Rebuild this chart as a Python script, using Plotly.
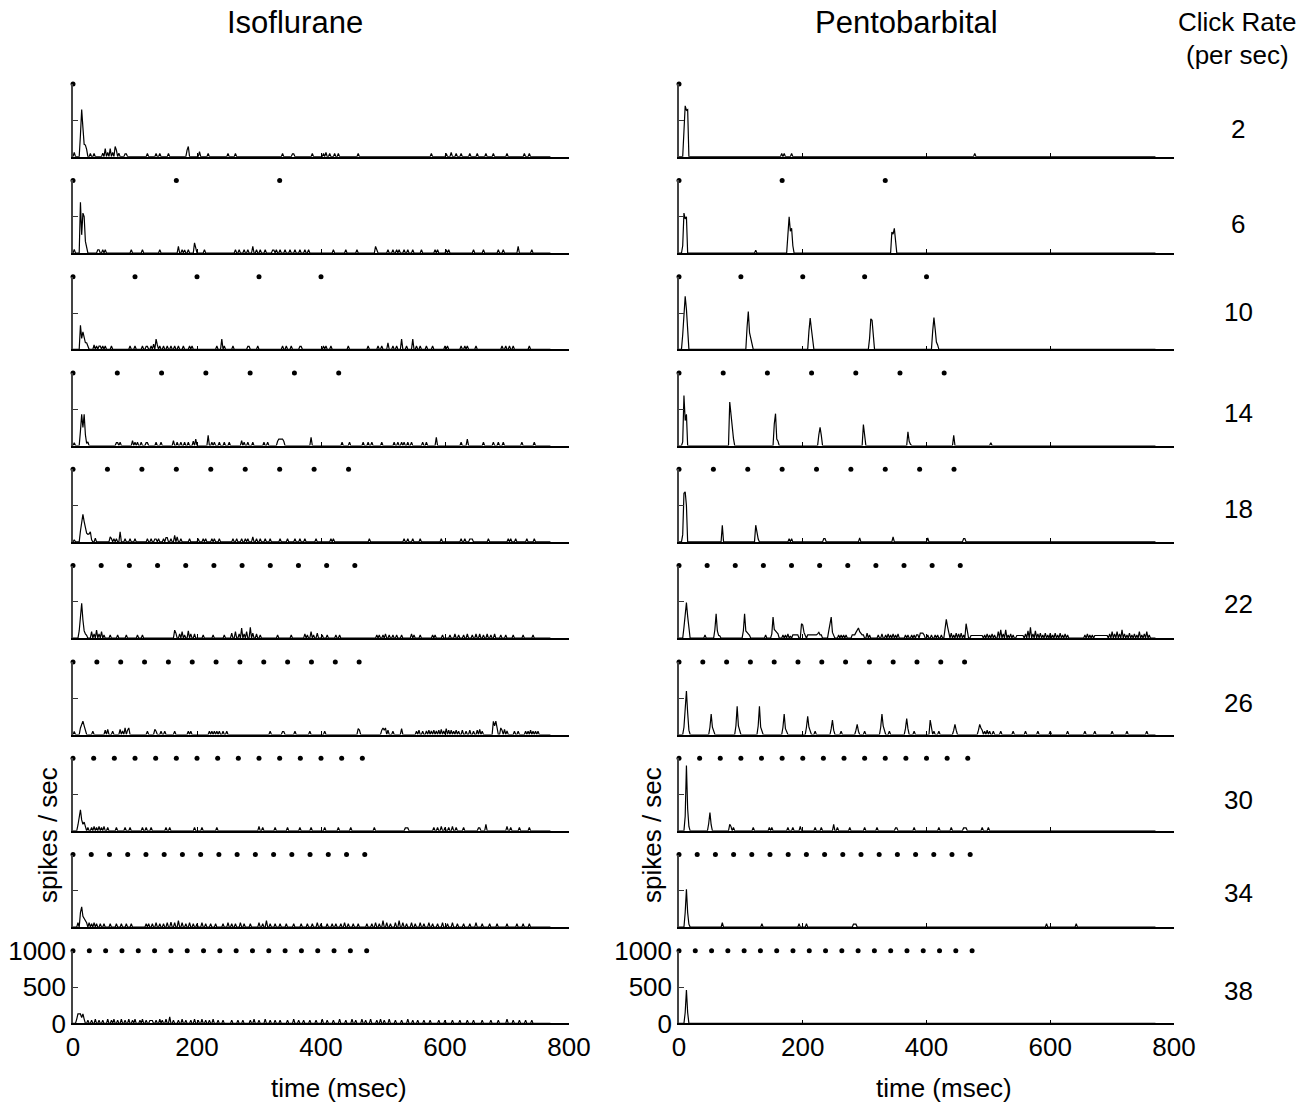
import plotly.graph_objects as go

# ---------------------------------------------------------------------------
# Post-stimulus time histograms (2 ms bins) for click trains at ten rates,
# recorded under two anaesthetics. Each panel is a list of (bin start ms,
# spikes/sec) for the non-empty bins; all other bins are zero.
# ---------------------------------------------------------------------------
BIN_MS = 2
T_END = 770
STIM_MS = 500          # click train duration
click_rates = [2, 6, 10, 14, 18, 22, 26, 30, 34, 38]
x_ticks = [0, 200, 400, 600, 800]
y_ticks = [0, 500, 1000]

iso_02 = [(2, 60), (12, 300), (14, 650), (16, 400), (18, 170), (20, 160), (22, 100),
          (28, 45), (34, 45), (48, 50), (52, 110), (56, 60), (60, 110), (64, 60), (68, 140),
          (70, 90), (74, 50), (84, 40), (86, 40), (120, 45), (134, 45), (140, 45), (154, 45),
          (184, 90), (186, 140), (204, 70), (218, 45), (250, 45), (262, 45), (338, 45),
          (354, 40), (356, 40), (386, 45), (404, 45), (408, 60), (414, 45), (422, 45),
          (428, 45), (460, 45), (578, 45), (602, 45), (610, 60), (618, 45), (626, 45),
          (640, 45), (652, 45), (666, 45), (678, 45), (700, 45), (728, 45), (736, 45)]
iso_06 = [(2, 50), (12, 700), (14, 250), (16, 550), (18, 500), (20, 160), (22, 60),
          (40, 45), (42, 45), (48, 45), (52, 45), (94, 45), (112, 45), (140, 45), (170, 90),
          (176, 45), (180, 40), (186, 45), (196, 140), (198, 70), (212, 45), (262, 45),
          (268, 45), (276, 45), (282, 45), (290, 90), (296, 45), (302, 45), (310, 45),
          (322, 40), (324, 40), (328, 45), (334, 45), (342, 45), (350, 45), (358, 45),
          (366, 45), (374, 45), (380, 45), (420, 45), (440, 45), (458, 45), (488, 90),
          (490, 45), (508, 45), (516, 45), (522, 45), (526, 45), (534, 45), (540, 45),
          (548, 45), (562, 45), (584, 45), (588, 45), (602, 45), (606, 45), (646, 45),
          (662, 45), (686, 45), (694, 45), (718, 90), (740, 45)]
iso_10 = [(10, 0), (12, 330), (14, 150), (16, 240), (18, 150), (20, 90), (22, 90), (24, 30),
          (34, 60), (38, 45), (42, 45), (44, 45), (48, 45), (52, 45), (62, 45), (92, 45),
          (100, 45), (112, 45), (118, 40), (120, 40), (126, 45), (130, 70), (134, 140),
          (136, 60), (140, 45), (146, 45), (152, 45), (158, 45), (164, 45), (170, 45),
          (178, 45), (188, 45), (192, 45), (232, 45), (240, 140), (244, 45), (258, 45),
          (282, 40), (284, 40), (298, 45), (338, 45), (344, 45), (352, 45), (366, 40),
          (368, 40), (404, 45), (408, 45), (416, 45), (444, 45), (476, 45), (492, 45),
          (498, 45), (508, 90), (516, 45), (522, 45), (530, 140), (538, 45), (548, 140),
          (554, 45), (560, 45), (570, 45), (580, 45), (600, 45), (604, 45), (626, 45),
          (632, 45), (636, 45), (650, 45), (692, 45), (698, 45), (704, 45), (710, 45),
          (736, 45)]
iso_14 = [(2, 40), (12, 200), (14, 430), (16, 250), (18, 430), (20, 150), (22, 30), (24, 50),
          (70, 40), (72, 40), (76, 45), (96, 70), (100, 45), (104, 45), (110, 45), (118, 40),
          (120, 40), (134, 45), (142, 45), (162, 70), (168, 45), (174, 45), (180, 45),
          (186, 45), (194, 60), (198, 90), (218, 140), (224, 45), (228, 45), (236, 45),
          (244, 45), (252, 45), (272, 70), (276, 45), (282, 45), (290, 45), (308, 45),
          (314, 45), (330, 60), (332, 90), (334, 90), (336, 90), (338, 90), (340, 60),
          (384, 115), (434, 45), (446, 45), (468, 45), (476, 45), (482, 45), (498, 45),
          (518, 45), (524, 45), (530, 45), (534, 45), (540, 45), (546, 45), (564, 45),
          (570, 45), (586, 115), (626, 45), (636, 90), (662, 45), (678, 45), (686, 45),
          (694, 45), (724, 45), (744, 45)]
iso_18 = [(2, 30), (12, 150), (14, 270), (16, 380), (18, 280), (20, 175), (22, 120),
          (24, 105), (26, 110), (28, 140), (30, 30), (36, 50), (60, 70), (62, 45), (66, 45),
          (70, 45), (76, 140), (84, 45), (92, 45), (100, 45), (120, 45), (126, 45),
          (132, 40), (134, 40), (138, 45), (146, 45), (150, 60), (152, 60), (158, 45),
          (164, 90), (168, 70), (174, 45), (188, 45), (202, 45), (210, 45), (214, 45),
          (224, 45), (228, 45), (236, 45), (258, 45), (264, 45), (272, 45), (278, 45),
          (282, 45), (290, 70), (296, 45), (302, 45), (310, 45), (318, 45), (334, 45),
          (346, 45), (358, 45), (366, 45), (374, 45), (392, 45), (416, 45), (420, 45),
          (478, 45), (534, 45), (540, 45), (548, 45), (560, 45), (594, 45), (626, 45),
          (632, 45), (640, 40), (642, 40), (644, 40), (670, 45), (702, 45), (706, 45),
          (714, 45), (732, 45), (744, 45)]
iso_22 = [(10, 100), (12, 300), (14, 480), (16, 250), (18, 100), (20, 60), (22, 40),
          (30, 90), (34, 60), (38, 110), (42, 60), (46, 90), (50, 45), (60, 45), (72, 45),
          (86, 45), (104, 45), (112, 45), (164, 110), (166, 70), (172, 60), (176, 90),
          (180, 45), (186, 100), (190, 60), (196, 60), (210, 45), (226, 45), (244, 45),
          (256, 70), (262, 90), (268, 60), (272, 140), (276, 60), (280, 90), (286, 150),
          (290, 70), (296, 60), (302, 45), (330, 45), (352, 45), (374, 60), (378, 45),
          (384, 90), (388, 45), (394, 70), (402, 45), (410, 45), (424, 45), (430, 45),
          (490, 45), (494, 45), (500, 45), (504, 60), (510, 45), (516, 45), (522, 45),
          (530, 45), (546, 60), (550, 45), (560, 45), (580, 45), (584, 45), (596, 45),
          (608, 45), (616, 60), (622, 45), (630, 45), (636, 60), (644, 45), (650, 60),
          (656, 60), (662, 45), (668, 60), (674, 45), (680, 60), (690, 45), (698, 45),
          (710, 45), (726, 45), (742, 45)]
iso_26 = [(2, 40), (12, 90), (14, 150), (16, 184), (18, 120), (20, 40), (32, 45), (52, 60),
          (56, 70), (64, 45), (76, 70), (80, 50), (84, 90), (88, 60), (90, 90), (120, 45),
          (132, 70), (134, 45), (142, 45), (148, 45), (164, 45), (186, 45), (190, 45),
          (220, 45), (224, 45), (228, 45), (232, 45), (236, 45), (242, 45), (248, 45),
          (318, 45), (338, 40), (340, 40), (358, 45), (382, 45), (406, 45), (460, 80),
          (462, 60), (498, 60), (500, 90), (502, 60), (504, 90), (508, 60), (516, 45),
          (530, 80), (554, 45), (558, 60), (564, 45), (570, 50), (574, 60), (578, 50),
          (582, 60), (586, 50), (590, 60), (594, 70), (598, 50), (602, 80), (606, 60),
          (610, 60), (614, 45), (618, 60), (622, 45), (628, 60), (634, 45), (640, 60),
          (646, 45), (652, 60), (656, 70), (660, 45), (678, 180), (680, 120), (682, 184),
          (684, 90), (690, 90), (692, 60), (696, 70), (700, 50), (712, 45), (718, 45),
          (730, 45), (734, 45), (738, 60), (742, 45), (746, 45), (750, 45)]
iso_30 = [(8, 80), (10, 200), (12, 290), (14, 150), (16, 90), (18, 120), (20, 60), (24, 45),
          (30, 45), (34, 60), (38, 45), (42, 60), (46, 45), (50, 60), (56, 45), (70, 45),
          (84, 45), (92, 45), (112, 45), (118, 45), (126, 45), (150, 45), (156, 45),
          (196, 45), (208, 45), (232, 45), (300, 60), (306, 45), (326, 45), (346, 45),
          (366, 45), (384, 45), (406, 45), (428, 45), (448, 45), (486, 45), (536, 40),
          (538, 40), (540, 40), (582, 45), (588, 45), (594, 60), (600, 45), (606, 45),
          (612, 60), (618, 45), (630, 45), (654, 40), (656, 40), (666, 90), (700, 60),
          (706, 45), (720, 45), (736, 45)]
iso_34 = [(8, 60), (12, 200), (14, 280), (16, 150), (18, 120), (20, 90), (22, 60), (26, 60),
          (30, 45), (34, 60), (38, 45), (44, 45), (50, 45), (60, 45), (70, 45), (78, 45),
          (86, 45), (94, 45), (118, 45), (122, 45), (128, 45), (134, 60), (140, 45),
          (146, 45), (152, 60), (158, 70), (164, 60), (170, 90), (176, 60), (182, 45),
          (188, 60), (194, 45), (200, 45), (208, 60), (214, 45), (222, 45), (230, 45),
          (242, 45), (250, 60), (256, 45), (262, 45), (270, 60), (276, 45), (286, 45),
          (300, 60), (306, 45), (312, 90), (318, 45), (326, 45), (334, 45), (344, 45),
          (356, 45), (368, 45), (378, 45), (386, 45), (394, 60), (400, 45), (410, 45),
          (418, 45), (424, 45), (432, 45), (438, 60), (444, 45), (452, 45), (460, 45),
          (474, 45), (482, 45), (488, 60), (494, 45), (500, 90), (506, 60), (512, 45),
          (520, 60), (526, 90), (532, 60), (538, 45), (546, 60), (552, 45), (560, 60),
          (566, 45), (574, 60), (580, 45), (588, 45), (596, 60), (604, 45), (612, 60),
          (620, 45), (630, 45), (640, 45), (650, 60), (660, 45), (672, 45), (684, 45),
          (700, 45), (716, 45), (726, 45), (736, 45)]
iso_38 = [(6, 60), (8, 130), (10, 130), (12, 130), (14, 80), (16, 130), (18, 60), (24, 45),
          (30, 45), (36, 60), (42, 45), (48, 45), (56, 60), (62, 45), (66, 60), (72, 45),
          (78, 60), (84, 45), (90, 60), (96, 45), (100, 60), (108, 45), (112, 60), (118, 45),
          (124, 40), (126, 40), (128, 40), (134, 45), (140, 60), (144, 45), (150, 60),
          (156, 90), (162, 45), (170, 45), (176, 60), (182, 45), (190, 45), (196, 60),
          (202, 45), (208, 60), (214, 45), (220, 45), (226, 60), (234, 45), (242, 45),
          (256, 45), (266, 45), (274, 45), (286, 45), (292, 60), (300, 45), (310, 60),
          (318, 45), (326, 45), (334, 45), (346, 45), (356, 60), (364, 45), (372, 45),
          (382, 45), (392, 45), (402, 60), (410, 45), (420, 45), (430, 60), (440, 45),
          (450, 60), (456, 45), (466, 60), (472, 45), (480, 60), (490, 45), (496, 60),
          (502, 45), (510, 60), (520, 45), (530, 45), (540, 60), (548, 45), (556, 45),
          (566, 45), (576, 45), (590, 45), (600, 45), (612, 45), (624, 45), (636, 45),
          (646, 45), (660, 45), (674, 45), (686, 45), (700, 60), (710, 45), (720, 45),
          (730, 45), (740, 45)]

pen_02 = [(8, 350), (10, 700), (12, 640), (14, 650), (166, 45), (170, 45), (182, 45),
          (478, 45)]
pen_06 = [(6, 100), (8, 550), (10, 470), (12, 500), (124, 37), (176, 250), (178, 500),
          (180, 300), (182, 340), (184, 100), (344, 290), (346, 260), (348, 340), (350, 120)]
pen_10 = [(6, 200), (8, 500), (10, 730), (12, 550), (14, 230), (110, 300), (112, 520),
          (114, 230), (116, 150), (118, 60), (210, 250), (212, 430), (214, 280), (216, 100),
          (308, 150), (310, 420), (312, 400), (314, 150), (410, 250), (412, 436),
          (414, 280), (416, 100), (418, 60)]
pen_14 = [(6, 50), (8, 690), (10, 345), (12, 430), (82, 600), (84, 400), (86, 230),
          (88, 100), (154, 300), (156, 440), (158, 90), (160, 60), (226, 150), (228, 250),
          (230, 140), (298, 290), (300, 120), (370, 190), (372, 60), (374, 20), (444, 140),
          (504, 40)]
pen_18 = [(6, 100), (8, 670), (10, 690), (12, 500), (70, 230), (124, 230), (126, 100),
          (128, 40), (178, 45), (182, 45), (234, 46), (236, 46), (292, 55), (346, 70),
          (402, 55), (460, 46), (462, 46)]
pen_22 = [(8, 150), (10, 350), (12, 490), (14, 300), (16, 100), (42, 46), (58, 120),
          (60, 335), (62, 100), (64, 40), (66, 30), (104, 100), (106, 335), (108, 100),
          (110, 70), (112, 60), (114, 40), (140, 45), (150, 60), (152, 290), (154, 120),
          (156, 90), (158, 80), (160, 60), (168, 46), (172, 46), (176, 60), (180, 30),
          (184, 46), (186, 46), (188, 46), (190, 46), (192, 46), (198, 200), (200, 180),
          (202, 80), (204, 30), (208, 46), (210, 46), (212, 46), (214, 46), (216, 46),
          (218, 46), (220, 46), (222, 46), (224, 60), (226, 80), (228, 46), (230, 46),
          (242, 100), (244, 200), (246, 290), (248, 80), (250, 40), (258, 46), (262, 46),
          (266, 46), (270, 46), (280, 46), (282, 46), (284, 46), (286, 80), (288, 110),
          (290, 140), (292, 90), (294, 60), (296, 46), (298, 46), (304, 70), (308, 46),
          (322, 46), (328, 60), (334, 46), (338, 60), (342, 46), (346, 60), (350, 46),
          (354, 60), (366, 46), (370, 46), (376, 46), (380, 46), (384, 46), (386, 46),
          (390, 70), (392, 70), (394, 70), (396, 46), (402, 46), (408, 46), (414, 46),
          (418, 46), (424, 46), (430, 160), (432, 260), (434, 160), (436, 60), (440, 70),
          (444, 46), (448, 70), (452, 60), (456, 70), (460, 46), (464, 200), (466, 60),
          (472, 37), (474, 37), (476, 37), (478, 37), (480, 37), (482, 37), (484, 37),
          (486, 37), (488, 37), (490, 37), (494, 46), (498, 60), (502, 46), (506, 60),
          (510, 46), (516, 90), (520, 115), (524, 60), (528, 115), (532, 46), (536, 60),
          (540, 46), (546, 37), (548, 37), (550, 37), (552, 37), (554, 37), (556, 37),
          (560, 60), (564, 100), (568, 150), (572, 60), (576, 100), (580, 60), (584, 70),
          (588, 46), (592, 70), (596, 46), (600, 70), (604, 46), (608, 70), (612, 46),
          (616, 70), (620, 46), (624, 60), (628, 46), (656, 46), (660, 60), (664, 46),
          (668, 46), (672, 37), (674, 37), (676, 37), (678, 37), (680, 37), (682, 37),
          (684, 37), (686, 37), (688, 37), (690, 37), (692, 37), (696, 60), (700, 90),
          (704, 60), (708, 90), (712, 60), (716, 115), (720, 60), (724, 46), (728, 70),
          (732, 46), (736, 60), (740, 46), (744, 90), (748, 46), (752, 60), (756, 90),
          (760, 46)]
pen_26 = [(8, 100), (10, 400), (12, 600), (14, 300), (16, 60), (50, 100), (52, 280),
          (54, 100), (56, 40), (92, 120), (94, 390), (96, 120), (98, 40), (128, 120),
          (130, 390), (132, 100), (134, 40), (168, 100), (170, 280), (172, 80), (174, 40),
          (206, 100), (208, 250), (210, 100), (212, 40), (220, 45), (246, 80), (248, 200),
          (250, 60), (262, 45), (286, 60), (288, 140), (290, 45), (300, 45), (326, 100),
          (328, 280), (330, 120), (332, 60), (340, 45), (366, 80), (368, 220), (370, 80),
          (380, 45), (406, 200), (408, 80), (412, 45), (420, 45), (444, 60), (446, 140),
          (448, 60), (484, 60), (486, 140), (488, 90), (490, 60), (494, 45), (498, 60),
          (502, 45), (508, 45), (520, 45), (540, 45), (560, 45), (580, 45), (600, 45),
          (628, 45), (656, 45), (672, 45), (700, 45), (724, 45), (756, 45)]
pen_30 = [(10, 200), (12, 900), (14, 300), (16, 60), (48, 100), (50, 250), (52, 80),
          (82, 90), (84, 60), (88, 45), (120, 45), (146, 45), (150, 45), (176, 45),
          (184, 45), (196, 60), (220, 45), (230, 45), (250, 90), (256, 45), (276, 45),
          (300, 45), (320, 45), (350, 40), (352, 40), (380, 45), (420, 45), (440, 45),
          (460, 40), (462, 40), (464, 40), (490, 45), (500, 45)]
pen_34 = [(10, 200), (12, 520), (14, 200), (16, 40), (70, 60), (134, 45), (194, 45),
          (206, 45), (282, 40), (284, 40), (286, 40), (594, 45), (642, 45)]
pen_38 = [(10, 150), (12, 460), (14, 150)]

isoflurane = [iso_02, iso_06, iso_10, iso_14, iso_18, iso_22, iso_26, iso_30, iso_34, iso_38]
pentobarbital = [pen_02, pen_06, pen_10, pen_14, pen_18, pen_22, pen_26, pen_30, pen_34,
                 pen_38]

# ---------------------------------------------------------------------------
# Page geometry (pixels)
# ---------------------------------------------------------------------------
W, H = 1311, 1105
COL_X = [(73, 569), (679, 1174)]       # x extent of the two columns
ROW0_BASE, ROW_STEP, PANEL_H = 156.7, 96.3, 72.6
FONT = "Liberation Sans, Arial, Helvetica, sans-serif"


def px(x):
    return x / W


def py(y):
    return 1 - y / H


def histogram(events):
    t = list(range(0, T_END + BIN_MS, BIN_MS))
    rate = [0.0] * len(t)
    for ms, r in events:
        rate[ms // BIN_MS] = r
    return t, rate


def click_times(rate):
    period = 1000.0 / rate
    return [k * period for k in range(int(rate * STIM_MS / 1000))]


fig = go.Figure()
layout_axes = {}
n_rows = len(click_rates)
for col, panels in enumerate([isoflurane, pentobarbital]):
    for row, (rate_hz, events) in enumerate(zip(click_rates, panels)):
        idx = col * n_rows + row + 1
        xa = "x" if idx == 1 else f"x{idx}"
        ya = "y" if idx == 1 else f"y{idx}"
        t, r = histogram(events)
        fig.add_trace(go.Scatter(x=t, y=r, mode="lines", xaxis=xa, yaxis=ya,
                                 line=dict(color="black", width=1.2),
                                 hoverinfo="skip", showlegend=False))
        clicks = click_times(rate_hz)
        fig.add_trace(go.Scatter(x=clicks, y=[1000] * len(clicks), mode="markers",
                                 xaxis=xa, yaxis=ya, cliponaxis=False,
                                 marker=dict(color="black", size=5),
                                 hoverinfo="skip", showlegend=False))
        base = ROW0_BASE + row * ROW_STEP
        bottom = row == n_rows - 1
        layout_axes["xaxis" if idx == 1 else f"xaxis{idx}"] = dict(
            domain=[px(COL_X[col][0]), px(COL_X[col][1])], anchor=ya,
            range=[0, 800], tickvals=x_ticks, ticks="inside", ticklen=4,
            tickwidth=1.3, tickcolor="black", showline=True, linecolor="black",
            linewidth=1.5, showgrid=False, zeroline=False, automargin=False,
            showticklabels=bottom, tickfont=dict(family=FONT, size=26, color="black"),
            ticklabelstandoff=0)
        layout_axes["yaxis" if idx == 1 else f"yaxis{idx}"] = dict(
            domain=[py(base), py(base - PANEL_H)], anchor=xa,
            range=[0, 1000], tickvals=y_ticks, ticks="inside", ticklen=5,
            tickwidth=1.3, tickcolor="#333", showline=True, linecolor="#444",
            linewidth=1.5, showgrid=False, zeroline=False, automargin=False,
            showticklabels=bottom, tickfont=dict(family=FONT, size=26, color="black"),
            ticklabelstandoff=0)

annotations = []


def label(text, x, y, size=26, angle=0):
    annotations.append(dict(text=text, x=px(x), y=py(y), xref="paper", yref="paper",
                             xanchor="center", yanchor="middle", showarrow=False,
                             textangle=angle,
                             font=dict(family=FONT, size=size, color="black")))


label("Isoflurane", 295, 22, size=31)
label("Pentobarbital", 906, 22, size=31)
label("Click Rate", 1237, 22)
label("(per sec)", 1237, 55)
rate_label_y = [129, 224, 312, 413, 509, 604, 703, 800, 893, 991]
for rate_hz, yy in zip(click_rates, rate_label_y):
    label(str(rate_hz), 1238, yy)
label("spikes / sec", 48, 835, angle=-90)
label("spikes / sec", 652, 835, angle=-90)
label("time (msec)", 339, 1088)
label("time (msec)", 944, 1088)

fig.update_layout(width=W, height=H,
                  margin=dict(l=0, r=0, t=0, b=0, pad=0, autoexpand=False),
                  paper_bgcolor="white", plot_bgcolor="white",
                  annotations=annotations, **layout_axes)
fig.write_html("out.html")
